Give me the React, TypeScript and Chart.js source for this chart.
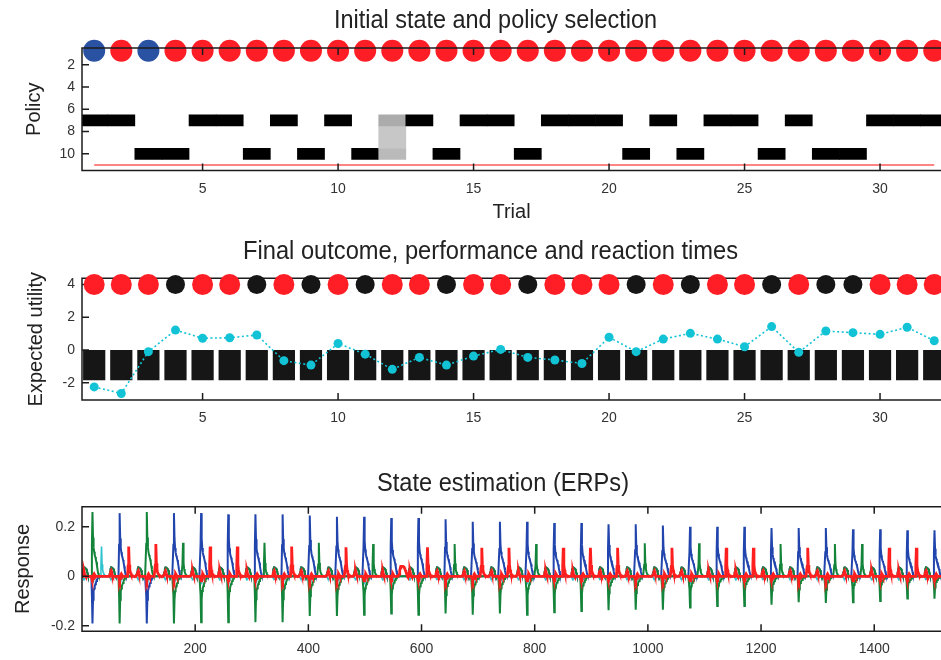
import React, { useEffect, useRef } from 'react';
import { Chart, registerables } from 'chart.js';

Chart.register(...registerables);

const FONT = "'Liberation Sans Narrow', 'Arial Narrow', 'Liberation Sans', Arial, sans-serif";

// ---------------- colours ----------------
const RED = '#ff1e25';
const BLUE = '#2a52a3';
const BLACK = '#161616';
const CYAN = '#12c3d6';
const PINK = '#ff8585';
const ERP_BLUE = '#2145ad';
const ERP_GREEN = '#15843b';
const ERP_CYAN = '#2fc3cf';
const ERP_RED = '#ff1f1f';

// ---------------- panel 1: initial state and policy selection ----------------
const trials = [1, 2, 3, 4, 5, 6, 7, 8, 9, 10, 11, 12, 13, 14, 15, 16, 17, 18, 19, 20, 21, 22, 23, 24, 25, 26, 27, 28, 29, 30, 31, 32];
const trialTicks = [5, 10, 15, 20, 25, 30];
const policyTicks = [2, 4, 6, 8, 10];
// 1 = blue initial state, 2 = red initial state
const initialState = [1, 2, 1, 2, 2, 2, 2, 2, 2, 2, 2, 2, 2, 2, 2, 2, 2, 2, 2, 2, 2, 2, 2, 2, 2, 2, 2, 2, 2, 2, 2, 2];
const stateMarkerLevel = 0.75;
const policyRows = [7, 8, 9, 10];
const policy7Prob = [1, 1, 0, 0, 1, 1, 0, 1, 0, 1, 0, 0.33, 1, 0, 1, 1, 0, 1, 1, 1, 0, 1, 0, 1, 1, 0, 1, 0, 0, 1, 1, 1];
const policy8Prob = [0, 0, 0, 0, 0, 0, 0, 0, 0, 0, 0, 0.22, 0, 0, 0, 0, 0, 0, 0, 0, 0, 0, 0, 0, 0, 0, 0, 0, 0, 0, 0, 0];
const policy9Prob = [0, 0, 0, 0, 0, 0, 0, 0, 0, 0, 0, 0.22, 0, 0, 0, 0, 0, 0, 0, 0, 0, 0, 0, 0, 0, 0, 0, 0, 0, 0, 0, 0];
const policy10Prob = [0, 0, 1, 1, 0, 0, 1, 0, 1, 0, 1, 0.27, 0, 1, 0, 0, 1, 0, 0, 0, 1, 0, 1, 0, 0, 1, 0, 1, 1, 0, 0, 0];
const policyTrace = [11, 11, 11, 11, 11, 11, 11, 11, 11, 11, 11, 11, 11, 11, 11, 11, 11, 11, 11, 11, 11, 11, 11, 11, 11, 11, 11, 11, 11, 11, 11, 11];

// ---------------- panel 2: final outcome, performance and reaction times ----------------
const utilityTicks = [4, 2, 0, -2];
// 1 = red (rewarded) outcome, 0 = black outcome
const outcome = [1, 1, 1, 0, 1, 1, 0, 1, 0, 1, 0, 1, 1, 0, 1, 1, 0, 1, 1, 1, 0, 1, 0, 1, 1, 0, 1, 0, 0, 1, 1, 1];
const outcomeLevel = 4;
const expectedUtility = [-2.25, -2.65, -0.1, 1.22, 0.72, 0.75, 0.92, -0.65, -0.92, 0.4, -0.25, -1.18, -0.45, -0.92, -0.37, 0.04, -0.45, -0.61, -0.82, 0.78, -0.1, 0.67, 1.02, 0.67, 0.2, 1.43, -0.14, 1.16, 1.06, 0.96, 1.39, 0.57];
const reactionTime = [-1.85, -1.85, -1.85, -1.85, -1.85, -1.85, -1.85, -1.85, -1.85, -1.85, -1.85, -1.85, -1.85, -1.85, -1.85, -1.85, -1.85, -1.85, -1.85, -1.85, -1.85, -1.85, -1.85, -1.85, -1.85, -1.85, -1.85, -1.85, -1.85, -1.85, -1.85, -1.85];

// ---------------- panel 3: state estimation (ERPs) ----------------
const erpTimeTicks = [200, 400, 600, 800, 1000, 1200, 1400];
const erpTicks = [0.2, 0, -0.2];
// states: 1 blue, 2 green, 3 cyan, 4 red
const erpPeakState = [2, 1, 2, 1, 1, 1, 1, 1, 1, 1, 1, 1, 1, 1, 1, 1, 1, 1, 1, 1, 1, 1, 1, 1, 1, 1, 1, 1, 1, 1, 1, 1];
const erpPeak = [0.26, 0.255, 0.26, 0.255, 0.255, 0.25, 0.25, 0.25, 0.245, 0.24, 0.24, 0.235, 0.235, 0.23, 0.22, 0.22, 0.22, 0.215, 0.215, 0.21, 0.21, 0.205, 0.2, 0.2, 0.2, 0.195, 0.195, 0.195, 0.19, 0.19, 0.186, 0.186];
const erpTroughState = [1, 2, 1, 2, 2, 2, 2, 2, 2, 2, 2, 2, 2, 2, 2, 2, 2, 2, 2, 2, 2, 2, 2, 2, 2, 2, 2, 2, 2, 2, 2, 2];
const erpTrough = [-0.19, -0.19, -0.19, -0.19, -0.185, -0.185, -0.185, -0.185, -0.16, -0.16, -0.155, -0.15, -0.155, -0.15, -0.155, -0.15, -0.155, -0.145, -0.14, -0.137, -0.135, -0.135, -0.126, -0.12, -0.12, -0.115, -0.105, -0.108, -0.105, -0.1, -0.09, -0.09];
const erpLateState = [3, 4, 4, 2, 4, 4, 2, 4, 2, 4, 2, 4, 4, 2, 4, 4, 2, 4, 4, 4, 2, 4, 2, 4, 4, 2, 4, 2, 2, 4, 4, 4];
const erpLatePeak = [0.12, 0.12, 0.13, 0.135, 0.12, 0.12, 0.135, 0.12, 0.135, 0.117, 0.13, 0.04, 0.117, 0.13, 0.115, 0.115, 0.13, 0.115, 0.115, 0.115, 0.133, 0.115, 0.133, 0.115, 0.115, 0.13, 0.115, 0.13, 0.13, 0.115, 0.115, 0.115];
const erpLateHump = [0, 0, 0, 0, 0, 0, 0, 0, 0, 0, 0, 1, 0, 0, 0, 0, 0, 0, 0, 0, 0, 0, 0, 0, 0, 0, 0, 0, 0, 0, 0, 0];
// response shapes over the 16 time bins of one epoch (three epochs per trial)
const spikeTemplate = [0, 0.5, 1, 0.6, 0.45, 0.38, 0.33, 0.3, 0.26, 0.22, 0.16, 0.1, 0.05, 0.02, 0, 0];
const troughTemplate = [0, 0.4, 1, 0.5, 0.32, 0.26, 0.21, 0.17, 0.14, 0.1, 0.07, 0.05, 0.03, 0.02, 0.01, 0];
const lateTemplate = [0, 0.35, 1, 0.4, 0.22, 0.13, 0.08, 0.05, 0.03, 0.02, 0.01, 0, 0, 0, 0, 0];
const humpTemplate = [0.2, 0.6, 0.85, 1, 1, 1, 1, 1, 1, 0.9, 0.75, 0.6, 0.45, 0.25, 0.1, 0];
const primeTemplate = [0, 0.015, 0.03, 0.036, 0.036, 0.034, 0.032, 0.03, 0.024, 0.014, 0.005, 0, 0, 0, 0, 0];
const cyanEarlyTemplate = [0, -0.005, -0.01, -0.012, -0.01, -0.008, -0.005, -0.003, 0, 0, 0, 0, 0, 0, 0, 0];
const cyanDipTemplate = [0, -0.012, -0.03, -0.022, -0.016, -0.012, -0.008, -0.005, -0.002, 0, 0, 0, 0, 0, 0, 0];
const redEarlyTemplate = [0, 0.008, 0.018, 0.022, 0.012, 0.004, 0, 0, 0, 0, 0, 0, 0, 0, 0, 0];
const redMidTemplate = [0, -0.01, -0.018, -0.008, 0.006, 0.01, 0.006, 0, 0, 0, 0, 0, 0, 0, 0, 0];

const BINS = 16;

function erpSeries(state: number) {
  const pts: { x: number; y: number }[] = [];
  erpPeakState.forEach((_, k) => {
    for (let e = 0; e < 3; e++) {
      for (let i = 0; i < BINS; i++) {
        let v = 0;
        if (e === 0) {
          if (state <= 2) v += primeTemplate[i];
          else if (state === 3) v += cyanEarlyTemplate[i];
          else v += redEarlyTemplate[i];
        } else if (e === 1) {
          if (erpPeakState[k] === state) v += erpPeak[k] * spikeTemplate[i];
          if (erpTroughState[k] === state) v += erpTrough[k] * troughTemplate[i];
          if (state === 3) v += cyanDipTemplate[i];
          if (state === 4) v += redMidTemplate[i];
        } else if (erpLateState[k] === state) {
          v += erpLatePeak[k] * (erpLateHump[k] ? humpTemplate[i] : lateTemplate[i]);
        }
        pts.push({ x: k * 3 * BINS + e * BINS + i + 0.5, y: v });
      }
    }
  });
  return pts;
}

// ---------------- plugins ----------------
function drawBox(chart: any, o: any) {
  const { ctx, chartArea, scales } = chart;
  const { left, right, top, bottom } = chartArea;
  const tl = 7;
  ctx.save();
  ctx.strokeStyle = '#1c1c1c';
  ctx.lineWidth = 1.5;
  ctx.beginPath();
  ctx.moveTo(right, top);
  ctx.lineTo(left, top);
  ctx.lineTo(left, bottom);
  ctx.lineTo(right, bottom);
  scales.x.ticks.forEach((t: any) => {
    const px = scales.x.getPixelForValue(t.value);
    ctx.moveTo(px, bottom);
    ctx.lineTo(px, bottom - tl);
    if (o.topTicks) {
      ctx.moveTo(px, top);
      ctx.lineTo(px, top + tl);
    }
  });
  scales.y.ticks.forEach((t: any) => {
    const py = scales.y.getPixelForValue(t.value);
    ctx.moveTo(left, py);
    ctx.lineTo(left + tl, py);
  });
  ctx.stroke();
  ctx.restore();
}

const axisBox = {
  id: 'axisBox',
  beforeDatasetsDraw(chart: any, _a: any, o: any) {
    if (!o.after) drawBox(chart, o);
  },
  afterDatasetsDraw(chart: any, _a: any, o: any) {
    if (o.after) drawBox(chart, o);
  },
};

const panelTitle = {
  id: 'panelTitle',
  afterDraw(chart: any, _a: any, o: any) {
    if (!o || !o.text) return;
    const ctx = chart.ctx;
    ctx.save();
    ctx.font = `${o.size}px ${FONT}`;
    ctx.fillStyle = '#222';
    ctx.textBaseline = 'alphabetic';
    ctx.textAlign = 'left';
    const w = ctx.measureText(o.text).width;
    ctx.translate(o.left, o.baseline);
    ctx.scale((o.right - o.left) / w, 1);
    ctx.fillText(o.text, 0, 0);
    ctx.restore();
  },
};

const tickFont = { size: 14, family: FONT };
const axisTitleFont = { size: 20, family: FONT };

function xScale(min: number, max: number, ticks: number[], height: number, padding: number, title?: any) {
  return {
    type: 'linear',
    min,
    max,
    offset: false,
    grid: { display: false, drawTicks: false },
    border: { display: false },
    afterBuildTicks: (ax: any) => {
      ax.ticks = ticks.map((v) => ({ value: v }));
    },
    afterFit: (s: any) => {
      s.height = height;
    },
    ticks: { padding, font: tickFont, color: '#333', autoSkip: false, maxRotation: 0, callback: (v: any) => String(v) },
    title: title || { display: false },
  };
}

function yScale(min: number, max: number, ticks: number[], label: string, titleOffset: number, reverse = false) {
  return {
    type: 'linear',
    min,
    max,
    reverse,
    grid: { display: false, drawTicks: false },
    border: { display: false },
    afterBuildTicks: (ax: any) => {
      ax.ticks = ticks.map((v) => ({ value: v }));
    },
    afterFit: (s: any) => {
      s.width = 82;
    },
    ticks: { padding: 7, font: tickFont, color: '#333', callback: (v: any) => String(v) },
    title: { display: true, text: label, font: axisTitleFont, color: '#222', padding: { top: titleOffset, bottom: 0 } },
  };
}

const baseOptions = (topPad: number) => ({
  responsive: false,
  devicePixelRatio: 1,
  animation: false,
  events: [],
  layout: { autoPadding: false, padding: { top: topPad, left: 0, right: 0, bottom: 0 } },
});

const cellColor = (p: number) => {
  const g = Math.round(255 * (1 - p));
  return `rgb(${g},${g},${g})`;
};

export default function App() {
  const r1 = useRef<HTMLCanvasElement>(null);
  const r2 = useRef<HTMLCanvasElement>(null);
  const r3 = useRef<HTMLCanvasElement>(null);

  useEffect(() => {
    const policyProbs = [policy7Prob, policy8Prob, policy9Prob, policy10Prob];

    const c1 = new Chart(r1.current as any, {
      type: 'bar',
      plugins: [axisBox, panelTitle],
      data: {
        datasets: [
          {
            type: 'line',
            data: trials.map((t) => ({ x: t, y: stateMarkerLevel })),
            showLine: false,
            pointRadius: 11,
            pointBackgroundColor: initialState.map((s) => (s === 1 ? BLUE : RED)),
            pointBorderWidth: 0,
            clip: { left: 0, top: false, right: 0, bottom: 0 },
            order: 1,
          },
          {
            type: 'line',
            data: trials.map((t, i) => ({ x: t, y: policyTrace[i] })),
            borderColor: PINK,
            borderWidth: 2,
            pointRadius: 0,
            order: 2,
          },
          ...policyRows.map((row, r) => ({
            type: 'bar',
            data: trials.map((t, i) => ({ x: t, y: policyProbs[r][i] > 0 ? [row - 0.5, row + 0.5] : null })),
            backgroundColor: policyProbs[r].map(cellColor),
            grouped: false,
            categoryPercentage: 1,
            barPercentage: 1,
            borderWidth: 0,
            order: 3,
          })),
        ] as any,
      },
      options: {
        ...baseOptions(48),
        plugins: {
          legend: { display: false },
          tooltip: { enabled: false },
          axisBox: { after: true, topTicks: true },
          panelTitle: { text: 'Initial state and policy selection', left: 334, right: 657, baseline: 28, size: 25 },
        },
        scales: {
          x: xScale(0.55, 32.25, trialTicks, 230 - 170.5, 10, {
            display: true,
            text: 'Trial',
            font: axisTitleFont,
            color: '#222',
            padding: { top: 0, bottom: 6 },
          }),
          y: yScale(0.5, 11.5, policyTicks, 'Policy', 22, true),
        },
      } as any,
    });

    const c2 = new Chart(r2.current as any, {
      type: 'bar',
      plugins: [axisBox, panelTitle],
      data: {
        datasets: [
          {
            type: 'line',
            data: trials.map((t) => ({ x: t, y: outcomeLevel })),
            showLine: false,
            pointRadius: outcome.map((o) => (o ? 10.5 : 9.5)),
            pointBackgroundColor: outcome.map((o) => (o ? RED : BLACK)),
            pointBorderWidth: 0,
            clip: { left: 0, top: false, right: 0, bottom: 0 },
            order: 1,
          },
          {
            type: 'line',
            data: trials.map((t, i) => ({ x: t, y: expectedUtility[i] })),
            borderColor: CYAN,
            borderWidth: 1.6,
            borderDash: [2, 2.5],
            pointRadius: 4.5,
            pointBackgroundColor: CYAN,
            pointBorderWidth: 0,
            order: 2,
          },
          {
            type: 'bar',
            data: trials.map((t, i) => ({ x: t, y: reactionTime[i] })),
            backgroundColor: BLACK,
            categoryPercentage: 1,
            barPercentage: 0.82,
            borderWidth: 0,
            order: 3,
          },
        ] as any,
      },
      options: {
        ...baseOptions(48.3),
        plugins: {
          legend: { display: false },
          tooltip: { enabled: false },
          axisBox: { after: false, topTicks: false },
          panelTitle: { text: 'Final outcome, performance and reaction times', left: 243, right: 738, baseline: 29, size: 25 },
        },
        scales: {
          x: xScale(0.55, 32.25, trialTicks, 30, 10),
          y: yScale(-3.05, 4.38, utilityTicks, 'Expected utility', 24),
        },
      } as any,
    });

    const erpDefs = [
      { state: 4, color: ERP_RED, width: 2.8, order: 1 },
      { state: 2, color: ERP_GREEN, width: 2, order: 2 },
      { state: 3, color: ERP_CYAN, width: 1.6, order: 3 },
      { state: 1, color: ERP_BLUE, width: 2, order: 4 },
    ];

    const c3 = new Chart(r3.current as any, {
      type: 'line',
      plugins: [axisBox, panelTitle],
      data: {
        datasets: erpDefs.map((d) => ({
          data: erpSeries(d.state),
          borderColor: d.color,
          borderWidth: d.width,
          pointRadius: 0,
          tension: 0,
          order: d.order,
        })),
      },
      options: {
        ...baseOptions(76.7),
        plugins: {
          legend: { display: false },
          tooltip: { enabled: false },
          axisBox: { after: true, topTicks: true },
          panelTitle: { text: 'State estimation (ERPs)', left: 377, right: 629, baseline: 60.5, size: 25 },
        },
        scales: {
          x: xScale(0, 1518, erpTimeTicks, 660 - 631.3, 9),
          y: yScale(-0.222, 0.281, erpTicks, 'Response', 11),
        },
      } as any,
    });

    return () => {
      c1.destroy();
      c2.destroy();
      c3.destroy();
    };
  }, []);

  const cv = (top: number, h: number): React.CSSProperties => ({ position: 'absolute', left: 0, top, width: 941, height: h });

  return (
    <div style={{ position: 'absolute', left: 0, top: 0, width: 941, height: 660, background: '#fff', overflow: 'hidden' }}>
      <canvas ref={r1} width={941} height={230} style={cv(0, 230)} />
      <canvas ref={r2} width={941} height={200} style={cv(230, 200)} />
      <canvas ref={r3} width={941} height={230} style={cv(430, 230)} />
    </div>
  );
}
